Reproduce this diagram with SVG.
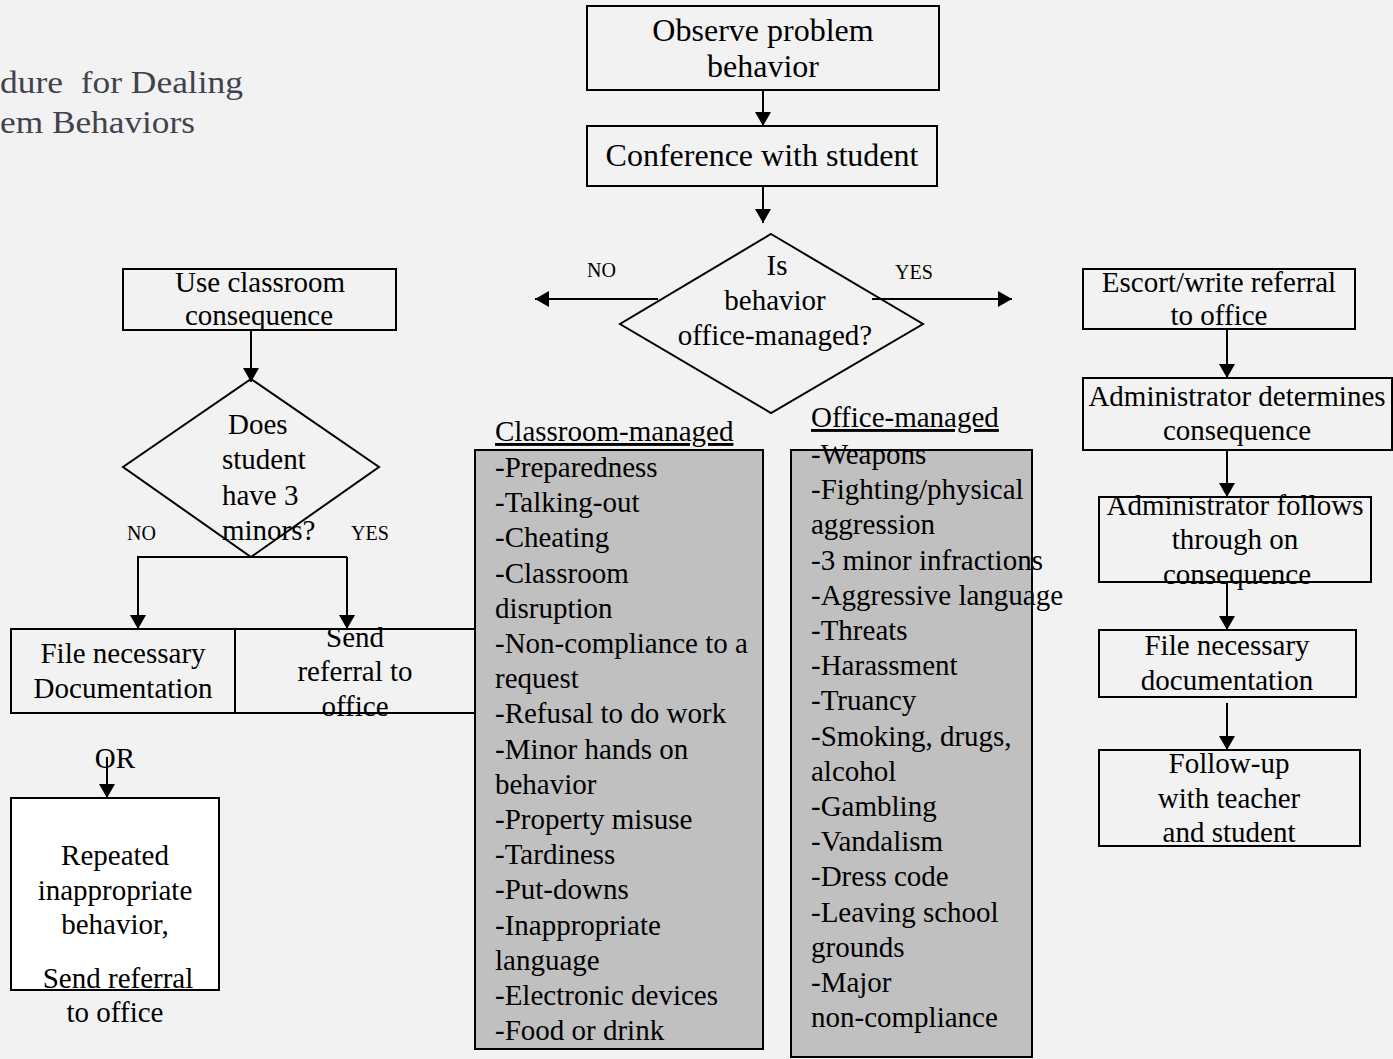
<svg xmlns="http://www.w3.org/2000/svg" width="1393" height="1059" viewBox="0 0 1393 1059">
<style>
.bg{fill:#f2f2f2}
.box{fill:none;stroke:#000;stroke-width:2}
.wbox{fill:#ffffff;stroke:#000;stroke-width:2}
.gbox{fill:#c0c0c0;stroke:#000;stroke-width:2}
.t{font-family:"Liberation Serif","Times New Roman",serif;font-size:29px;fill:#000}
.tb{font-family:"Liberation Serif","Times New Roman",serif;font-size:32px;fill:#000}
.c{text-anchor:middle}
.lbl{font-family:"Liberation Serif","Times New Roman",serif;font-size:20px;fill:#000}
.title{font-family:"Liberation Serif","DejaVu Serif",serif;font-size:31px;fill:#42424e}
.ln{stroke:#000;stroke-width:2;fill:none}
</style>
<defs>
<marker id="ah" markerWidth="16" markerHeight="16" refX="14" refY="8" orient="auto" markerUnits="userSpaceOnUse">
<path d="M0,0 L14,8 L0,16 Z" fill="#000"/>
</marker>
</defs>
<rect class="bg" x="0" y="0" width="1393" height="1059"/>

<g id="title">
<text class="title" x="0" y="93" xml:space="preserve" textLength="243" lengthAdjust="spacingAndGlyphs">dure  for Dealing</text>
<text class="title" x="0" y="133" textLength="195" lengthAdjust="spacingAndGlyphs">em Behaviors</text>
</g>

<g id="connectors">
<line class="ln" x1="763" y1="90" x2="763" y2="126" marker-end="url(#ah)"/>
<line class="ln" x1="763" y1="186" x2="763" y2="223" marker-end="url(#ah)"/>
<line class="ln" x1="658" y1="299" x2="535" y2="299" marker-end="url(#ah)"/>
<line class="ln" x1="872" y1="299" x2="1012" y2="299" marker-end="url(#ah)"/>
<line class="ln" x1="1227" y1="329" x2="1227" y2="378" marker-end="url(#ah)"/>
<line class="ln" x1="1227" y1="450" x2="1227" y2="497" marker-end="url(#ah)"/>
<line class="ln" x1="1227" y1="582" x2="1227" y2="630" marker-end="url(#ah)"/>
<line class="ln" x1="1227" y1="703" x2="1227" y2="750" marker-end="url(#ah)"/>
<line class="ln" x1="251" y1="330" x2="251" y2="382" marker-end="url(#ah)"/>
<path class="ln" d="M347,557 L138,557 L138,629" marker-end="url(#ah)"/>
<line class="ln" x1="347" y1="557" x2="347" y2="629" marker-end="url(#ah)"/>
<line class="ln" x1="107" y1="757" x2="107" y2="798" marker-end="url(#ah)"/>
</g>

<g id="observe">
<rect class="box" x="587" y="6" width="352" height="84"/>
<text class="tb c" x="763" y="41">Observe problem</text>
<text class="tb c" x="763" y="77">behavior</text>
</g>

<g id="conference">
<rect class="box" x="587" y="126" width="350" height="60"/>
<text class="tb c" x="762" y="166">Conference with student</text>
</g>

<g id="decision-office">
<polygon class="box" points="771,234 923,324 771,413 620,324"/>
<text class="t c" x="777" y="275">Is</text>
<text class="t c" x="775" y="310">behavior</text>
<text class="t c" x="775" y="345">office-managed?</text>
<text class="lbl" x="587" y="277">NO</text>
<text class="lbl" x="895" y="279">YES</text>
</g>

<g id="escort">
<rect class="box" x="1083" y="269" width="272" height="60"/>
<text class="t c" x="1219" y="292">Escort/write referral</text>
<text class="t c" x="1219" y="325">to office</text>
</g>

<g id="admin-determines">
<rect class="box" x="1083" y="378" width="309" height="72"/>
<text class="t c" x="1237" y="406">Administrator determines</text>
<text class="t c" x="1237" y="440">consequence</text>
</g>

<g id="admin-follows">
<rect class="box" x="1099" y="497" width="272" height="85"/>
<text class="t c" x="1235" y="515">Administrator follows</text>
<text class="t c" x="1235" y="549">through on</text>
<text class="t c" x="1237" y="584">consequence</text>
</g>

<g id="file-doc-right">
<rect class="box" x="1099" y="630" width="257" height="67"/>
<text class="t c" x="1227" y="655">File necessary</text>
<text class="t c" x="1227" y="690">documentation</text>
</g>

<g id="follow-up">
<rect class="box" x="1099" y="750" width="261" height="96"/>
<text class="t c" x="1229" y="773">Follow-up</text>
<text class="t c" x="1229" y="808">with teacher</text>
<text class="t c" x="1229" y="842">and student</text>
</g>

<g id="use-classroom">
<rect class="box" x="123" y="269" width="273" height="61"/>
<text class="t c" x="260" y="292">Use classroom</text>
<text class="t c" x="259" y="325">consequence</text>
</g>

<g id="decision-minors">
<polygon class="box" points="251,379 379,467 251,557 123,467"/>
<text class="t" x="228" y="434">Does</text>
<text class="t" x="222" y="469">student</text>
<text class="t" x="222" y="505">have 3</text>
<text class="t" x="222" y="540">minors?</text>
<text class="lbl" x="127" y="540">NO</text>
<text class="lbl" x="351" y="540">YES</text>
</g>

<g id="file-doc-left">
<rect class="box" x="11" y="629" width="224" height="84"/>
<text class="t c" x="123" y="663">File necessary</text>
<text class="t c" x="123" y="698">Documentation</text>
</g>

<g id="send-referral">
<rect class="box" x="235" y="629" width="240" height="84"/>
<text class="t c" x="355" y="647">Send</text>
<text class="t c" x="355" y="681">referral to</text>
<text class="t c" x="355" y="716">office</text>
</g>

<g id="or-label">
<text class="t c" x="115" y="768">OR</text>
</g>

<g id="repeated">
<rect class="wbox" x="11" y="798" width="208" height="192"/>
<text class="t c" x="115" y="865">Repeated</text>
<text class="t c" x="115" y="900">inappropriate</text>
<text class="t c" x="115" y="934">behavior,</text>
<text class="t c" x="118" y="988">Send referral</text>
<text class="t c" x="115" y="1022">to office</text>
</g>

<g id="classroom-managed">
<rect class="gbox" x="475" y="450" width="288" height="599"/>
<text class="t" x="495" y="441" text-decoration="underline">Classroom-managed</text>
<text class="t" x="495" y="477">-Preparedness</text>
<text class="t" x="495" y="512">-Talking-out</text>
<text class="t" x="495" y="547">-Cheating</text>
<text class="t" x="495" y="583">-Classroom</text>
<text class="t" x="495" y="618">disruption</text>
<text class="t" x="495" y="653">-Non-compliance to a</text>
<text class="t" x="495" y="688">request</text>
<text class="t" x="495" y="723">-Refusal to do work</text>
<text class="t" x="495" y="759">-Minor hands on</text>
<text class="t" x="495" y="794">behavior</text>
<text class="t" x="495" y="829">-Property misuse</text>
<text class="t" x="495" y="864">-Tardiness</text>
<text class="t" x="495" y="899">-Put-downs</text>
<text class="t" x="495" y="935">-Inappropriate</text>
<text class="t" x="495" y="970">language</text>
<text class="t" x="495" y="1005">-Electronic devices</text>
<text class="t" x="495" y="1040">-Food or drink</text>
</g>

<g id="office-managed">
<rect class="gbox" x="791" y="450" width="241" height="607"/>
<text class="t" x="811" y="427" text-decoration="underline">Office-managed</text>
<text class="t" x="811" y="464">-Weapons</text>
<text class="t" x="811" y="499">-Fighting/physical</text>
<text class="t" x="811" y="534">aggression</text>
<text class="t" x="811" y="570">-3 minor infractions</text>
<text class="t" x="811" y="605">-Aggressive language</text>
<text class="t" x="811" y="640">-Threats</text>
<text class="t" x="811" y="675">-Harassment</text>
<text class="t" x="811" y="710">-Truancy</text>
<text class="t" x="811" y="746">-Smoking, drugs,</text>
<text class="t" x="811" y="781">alcohol</text>
<text class="t" x="811" y="816">-Gambling</text>
<text class="t" x="811" y="851">-Vandalism</text>
<text class="t" x="811" y="886">-Dress code</text>
<text class="t" x="811" y="922">-Leaving school</text>
<text class="t" x="811" y="957">grounds</text>
<text class="t" x="811" y="992">-Major</text>
<text class="t" x="811" y="1027">non-compliance</text>
</g>
</svg>
